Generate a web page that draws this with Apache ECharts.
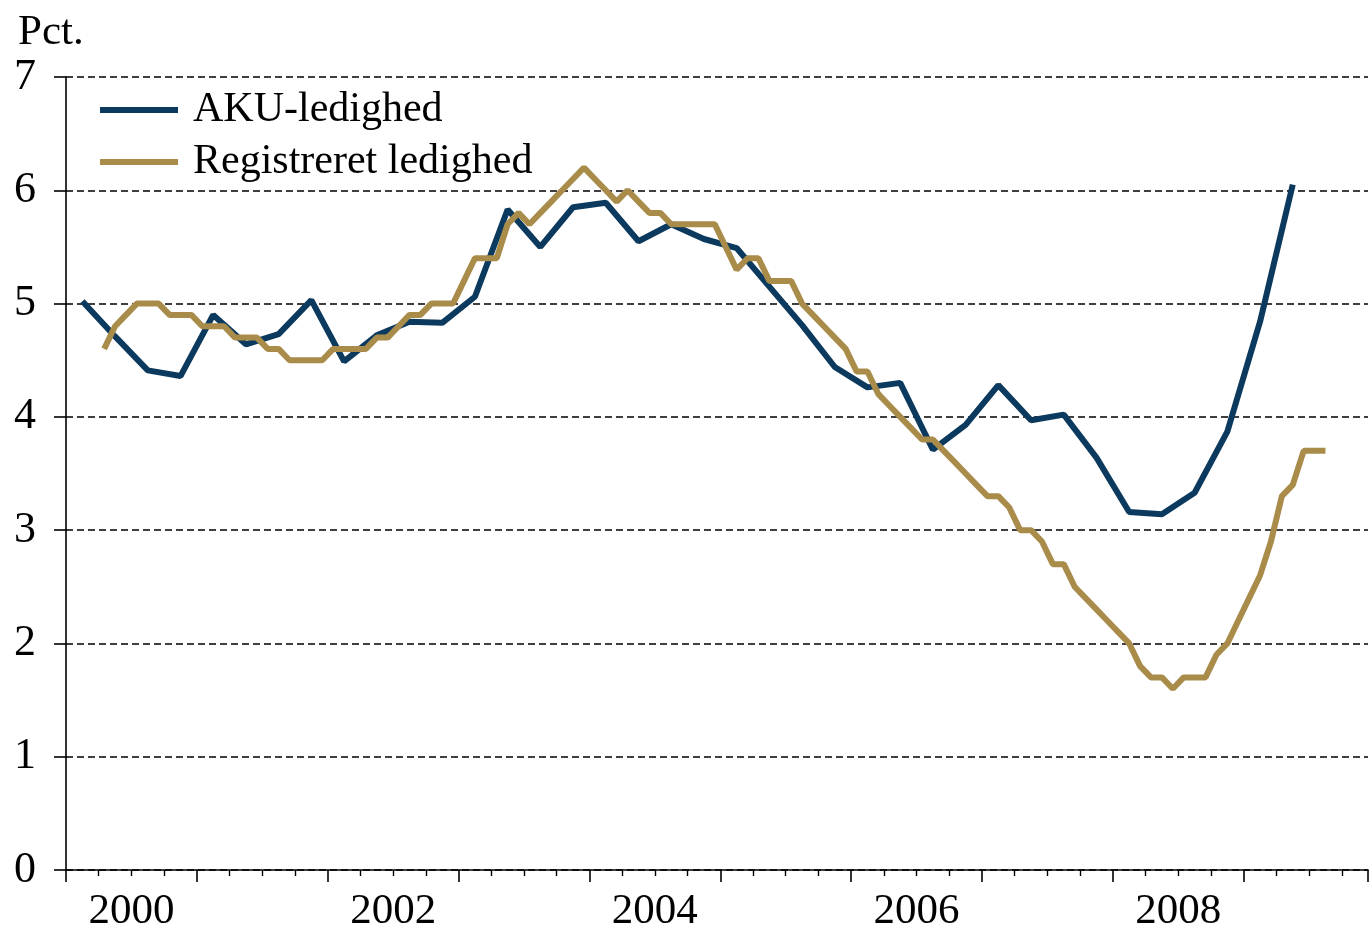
<!DOCTYPE html>
<html>
<head>
<meta charset="utf-8">
<title>AKU-ledighed og registreret ledighed</title>
<script src="https://cdn.jsdelivr.net/npm/echarts@6/dist/echarts.min.js"></script>
<style>
  html, body { margin: 0; padding: 0; background: #fff; }
  #chart { width: 1371px; height: 933px; }
</style>
</head>
<body>
<div id="chart"></div>
<script>
// data
// AKU: quarterly, 2000K1 - 2009K2
var akuStart = 2000; // first quarter = 2000 Q1
var akuValues = [
  5.02, 4.71, 4.41, 4.36,
  4.90, 4.64, 4.73, 5.03,
  4.49, 4.72, 4.84, 4.83,
  5.06, 5.83, 5.50, 5.85,
  5.89, 5.55, 5.70, 5.57,
  5.49, 5.15, 4.81, 4.44,
  4.26, 4.30, 3.71, 3.93,
  4.28, 3.97, 4.02, 3.64,
  3.16, 3.14, 3.33, 3.87,
  4.84, 6.05
];
// registreret: monthly, April 2000 - August 2009
var regStartMonth = 3; // months after Jan 2000
var regValues = [
  4.6, 4.8, 4.9, 5.0, 5.0, 5.0, 4.9, 4.9, 4.9,
  4.8, 4.8, 4.8, 4.7, 4.7, 4.7, 4.6, 4.6, 4.5, 4.5, 4.5, 4.5,
  4.6, 4.6, 4.6, 4.6, 4.7, 4.7, 4.8, 4.9, 4.9, 5.0, 5.0, 5.0,
  5.2, 5.4, 5.4, 5.4, 5.7, 5.8, 5.7, 5.8, 5.9, 6.0, 6.1, 6.2,
  6.1, 6.0, 5.9, 6.0, 5.9, 5.8, 5.8, 5.7, 5.7, 5.7, 5.7, 5.7,
  5.5, 5.3, 5.4, 5.4, 5.2, 5.2, 5.2, 5.0, 4.9, 4.8, 4.7, 4.6,
  4.4, 4.4, 4.2, 4.1, 4.0, 3.9, 3.8, 3.8, 3.7, 3.6, 3.5, 3.4,
  3.3, 3.3, 3.2, 3.0, 3.0, 2.9, 2.7, 2.7, 2.5, 2.4, 2.3, 2.2,
  2.1, 2.0, 1.8, 1.7, 1.7, 1.6, 1.7, 1.7, 1.7, 1.9, 2.0, 2.2,
  2.4, 2.6, 2.9, 3.3, 3.4, 3.7, 3.7, 3.7
];
var yearLabels = [2000, 2002, 2004, 2006, 2008];
var seriesNames = ['AKU-ledighed', 'Registreret ledighed'];

(function () {
  var myChart = echarts.init(document.getElementById('chart'));
  var font = '"Liberation Serif", "Times New Roman", serif';
  var blue = '#0c3a5e';
  var gold = '#a98b4a';

  // points placed at the middle of each quarter / month
  var akuData = akuValues.map(function (v, i) {
    return [akuStart + (i + 0.5) / 4, v];
  });
  var regData = regValues.map(function (v, i) {
    return [2000 + (regStartMonth + i + 0.5) / 12, v];
  });

  var option = {
    animation: false,
    backgroundColor: '#fff',
    title: {
      text: 'Pct.',
      left: 13,
      top: 6,
      textStyle: { fontFamily: font, fontSize: 43, fontWeight: 'normal', color: '#000' }
    },
    legend: {
      orient: 'vertical',
      left: 100,
      top: 89,
      padding: 0,
      icon: 'rect',
      itemWidth: 78,
      itemHeight: 6,
      itemGap: 10,
      textStyle: { fontFamily: font, fontSize: 42, color: '#000', padding: [0, 0, 0, 10] },
      data: seriesNames
    },
    grid: { left: 66, right: 0, top: 77, bottom: 62 },
    xAxis: [
      {
        type: 'value',
        position: 'bottom',
        min: 2000,
        max: 2009.95,
        interval: 1,
        axisLine: { lineStyle: { color: '#000', width: 1.6 } },
        axisTick: { show: true, length: 12, lineStyle: { color: '#000', width: 1.6 } },
        minorTick: { show: true, splitNumber: 4, length: 6, lineStyle: { color: '#000', width: 1.4 } },
        axisLabel: { show: false },
        splitLine: { show: false }
      },
      {
        type: 'value',
        position: 'bottom',
        min: 2000,
        max: 2009.95,
        interval: 0.5,
        axisLine: { show: false },
        axisTick: { show: false },
        splitLine: { show: false },
        axisLabel: {
          margin: 20,
          fontFamily: font,
          fontSize: 43,
          color: '#000',
          formatter: function (v) {
            var y = Math.floor(v);
            if (Math.abs(v - y - 0.5) < 1e-6 && yearLabels.indexOf(y) >= 0) return String(y);
            return '';
          }
        }
      }
    ],
    yAxis: {
      type: 'value',
      min: 0,
      max: 7,
      interval: 1,
      axisLine: { show: true, lineStyle: { color: '#000', width: 1.6 } },
      axisTick: { show: true, length: 12, lineStyle: { color: '#000', width: 1.6 } },
      axisLabel: { margin: 30, fontFamily: font, fontSize: 44, color: '#000' },
      splitLine: { show: true, lineStyle: { color: '#000', width: 1.6, type: [7, 4] } }
    },
    series: [
      {
        name: seriesNames[0],
        type: 'line',
        xAxisIndex: 0,
        symbol: 'none',
        lineStyle: { color: blue, width: 6 },
        itemStyle: { color: blue },
        data: akuData
      },
      {
        name: seriesNames[1],
        type: 'line',
        xAxisIndex: 0,
        symbol: 'none',
        lineStyle: { color: gold, width: 6 },
        itemStyle: { color: gold },
        data: regData
      }
    ]
  };

  if (option && typeof option === 'object') {
    myChart.setOption(option);
  }
  window.addEventListener('resize', myChart.resize);
})();
</script>
</body>
</html>
